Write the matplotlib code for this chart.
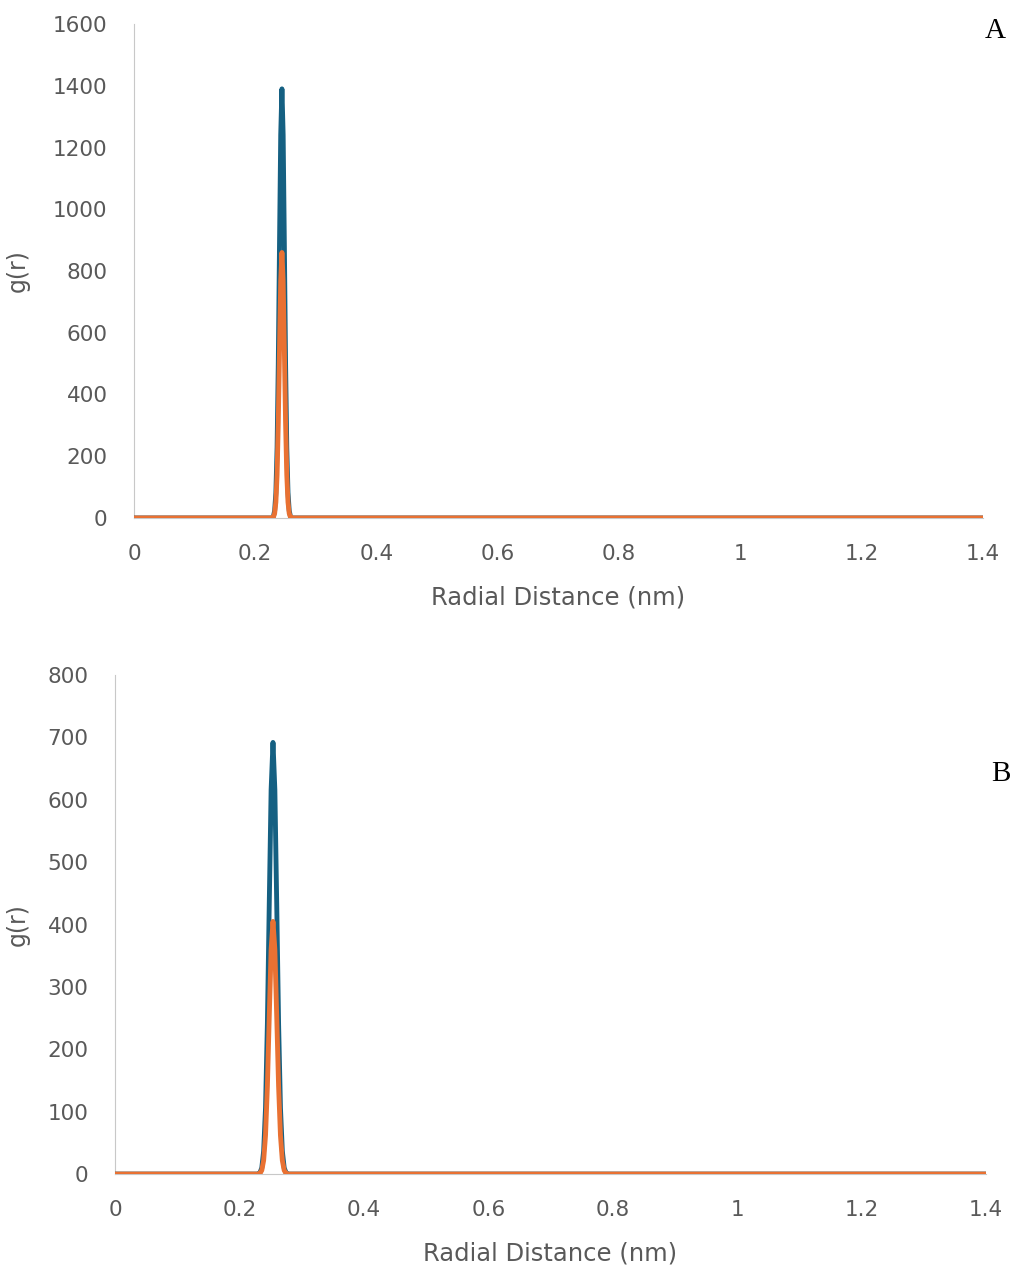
import matplotlib.pyplot as plt

# panel A: g(r) values
r_a = [0.0, 0.228, 0.230, 0.232, 0.234, 0.236, 0.238, 0.240, 0.242, 0.244,
       0.246, 0.248, 0.250, 0.252, 0.254, 0.256, 0.258, 0.260, 1.4]
g_a_blue = [0, 0, 5, 24, 82, 227, 501, 884, 1241, 1390,
            1241, 884, 501, 227, 82, 24, 5, 0, 0]
g_a_orange = [0, 0, 3, 15, 51, 140, 310, 547, 768, 860,
              768, 547, 310, 140, 51, 15, 3, 0, 0]

# panel B
r_b = [0.0, 0.230, 0.233, 0.236, 0.239, 0.242, 0.245, 0.248, 0.251, 0.254,
       0.257, 0.260, 0.263, 0.266, 0.269, 0.272, 0.275, 0.278, 1.4]
g_b_blue = [0, 0, 2, 10, 37, 106, 241, 433, 616, 692,
            616, 433, 241, 106, 37, 10, 2, 0, 0]
g_b_orange = [0, 0, 1, 6, 22, 62, 141, 253, 360, 405,
              360, 253, 141, 62, 22, 6, 1, 0, 0]

xticks = [0, 0.2, 0.4, 0.6, 0.8, 1, 1.2, 1.4]
xticklabels = ['0', '0.2', '0.4', '0.6', '0.8', '1', '1.2', '1.4']
yticks_a = [0, 200, 400, 600, 800, 1000, 1200, 1400, 1600]
yticks_b = [0, 100, 200, 300, 400, 500, 600, 700, 800]

blue = '#156082'
orange = '#E97132'
grey = '#595959'

plt.rcParams['font.family'] = ['DejaVu Sans']

fig = plt.figure(figsize=(10.11, 12.72), dpi=100)
ax1 = fig.add_axes([0.1325, 0.5928, 0.8398, 0.3883])
ax2 = fig.add_axes([0.1137, 0.0770, 0.8616, 0.3923])


def style(ax, yticks, ylab_x):
    ax.set_xlim(0, 1.4)
    ax.set_ylim(yticks[0], yticks[-1])
    ax.set_xticks(xticks)
    ax.set_xticklabels(xticklabels)
    ax.set_yticks(yticks)
    ax.tick_params(length=0, labelsize=15.5, colors=grey)
    ax.tick_params(axis='y', pad=19)
    ax.tick_params(axis='x', pad=19)
    for s in ['top', 'right']:
        ax.spines[s].set_visible(False)
    ax.spines['left'].set_color('#c8c8c8')
    ax.spines['bottom'].set_color('#c8c8c8')
    ax.set_xlabel('Radial Distance (nm)', fontsize=17.5, color=grey, labelpad=15)
    ax.set_ylabel('g(r)', fontsize=17, color=grey)
    ax.yaxis.set_label_coords(ylab_x, 0.5)


ax1.plot(r_a, g_a_blue, color=blue, lw=3.5, solid_capstyle='round', zorder=3)
ax1.plot(r_a, g_a_orange, color=orange, lw=3.5, solid_capstyle='round', zorder=4)
style(ax1, yticks_a, -0.1225)

ax2.plot(r_b, g_b_blue, color=blue, lw=3.5, solid_capstyle='round', zorder=3)
ax2.plot(r_b, g_b_orange, color=orange, lw=3.5, solid_capstyle='round', zorder=4)
style(ax2, yticks_b, -0.0976)

fig.text(0.974, 0.986, 'A', fontsize=21, family='Liberation Serif', color='black', va='top')
fig.text(0.980, 0.402, 'B', fontsize=21, family='Liberation Serif', color='black', va='top')

fig.savefig('out.png', dpi=100, facecolor='white')
